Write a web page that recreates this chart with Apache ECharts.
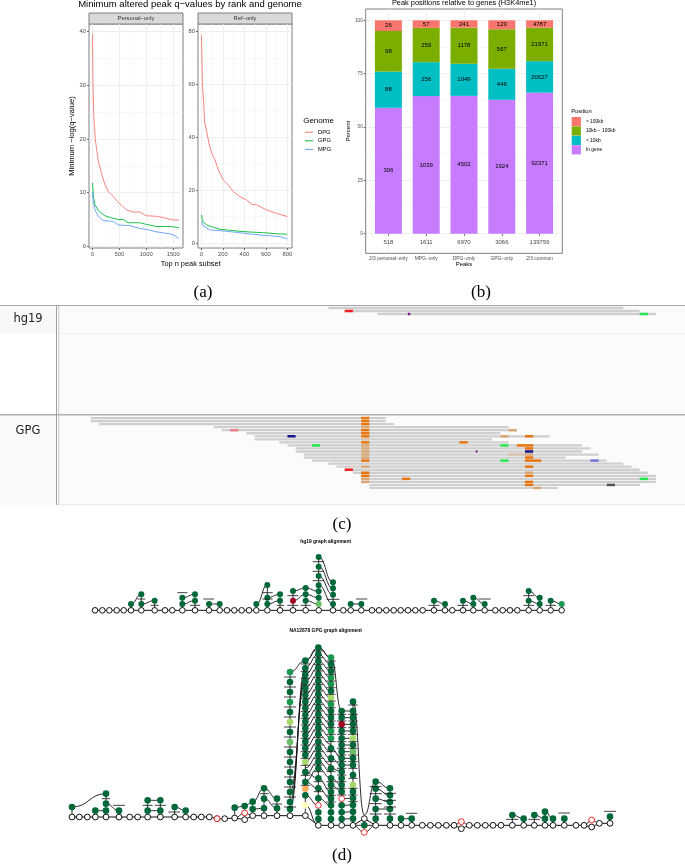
<!DOCTYPE html>
<html><head><meta charset="utf-8"><style>html,body{margin:0;padding:0;background:#fff}#c{width:685px;height:866px}</style>
<script src="https://cdn.jsdelivr.net/npm/echarts@6/dist/echarts.min.js"></script></head><body><div id="c"></div>
<script>
// ---------- (a) minimum altered peak q-values
const personalDPG=[[5,39.6],[12,30],[30,24],[55,20],[110,16],[170,13.6],[235,11.5],[296,10.2],[390,9.3],[480,8.2],[540,7.7],[635,6.8],[760,6.4],[880,6.4],[1000,5.7],[1190,5.6],[1345,5.3],[1470,4.95],[1605,4.9]];
const personalGPG=[[5,11.8],[20,9.3],[50,7.7],[110,6.7],[170,6.2],[235,5.7],[358,5.3],[480,5.0],[575,5.0],[665,4.4],[880,4.4],[1000,4.1],[1190,3.7],[1435,3.7],[1605,3.5]];
const personalMPG=[[5,10.2],[20,8.0],[50,6.8],[110,5.6],[205,4.8],[390,4.65],[480,4.0],[700,3.85],[880,3.35],[1030,3.1],[1190,2.7],[1435,2.35],[1530,2.0],[1605,1.45]];
const refDPG=[[2,78.6],[10,60],[20,54],[31,45.8],[50,42],[71,37.7],[96,33.9],[127,31.4],[158,27.6],[205,23.8],[251,21.9],[298,19.4],[360,17.5],[422,16.2],[468,14.7],[515,14.4],[608,12.5],[700,11.2],[800,10]];
const refGPG=[[2,10.6],[12,8.1],[50,6.8],[112,5.9],[174,5.2],[251,4.9],[360,4.4],[453,4.15],[577,3.9],[700,3.5],[800,3.3]];
const refMPG=[[2,8.1],[19,6.4],[81,4.9],[174,4.66],[298,4.15],[453,3.4],[608,2.8],[732,2.4],[800,1.5]];
const genomeNames=['DPG','GPG','MPG'];
const genomeColors=['#F8766D','#00BA38','#619CFF'];
// ---------- (b) peak positions relative to genes
const peakCategories=['2/3 personal\u2212only','MPG\u2212only','DPG\u2212only','GPG\u2212only','2/3 common'];
const countInGene=[306,1039,4502,1924,92371];
const countUnder10=[88,256,1049,446,20627];
const count10to100=[98,259,1178,567,21971];
const countOver100=[26,57,241,129,4787];
const peakTotals=[518,1611,6970,3066,139756];
const positionNames=['In gene','< 10kb','10kb \u2212 100kb','> 100kb'];
const positionColors=['#C77CFF','#00BFC4','#7CAE00','#F8766D'];
// ---------- (c) read pile-ups: [row,startBase,endBase]
const hg19Reads=[[0,29,65],[1,31,67],[2,35,69]];
const hg19Variants=[[1,31,32,'red'],[2,38.7,39,'purple'],[2,67,68,'green']];
const gpgReads=[[0,0,36],[1,0,36],[2,1,37],[3,15,51],[4,16,52],[5,19,50],[6,20,56],[7,20,49],[8,23,51],[9,24,60],[10,25,61],[11,25,60],[12,26,62],[13,26,58],[14,27,63],[15,29,65],[16,30,66],[17,31,67],[18,32,68],[19,33,69],[20,33,69],[21,33,69],[22,34,67],[23,34,57]];
const gpgVariants=[[0,33,34,'orange'],[1,33,34,'orange'],[2,33,34,'orange'],[3,33,34,'tan'],[4,33,34,'orange'],[5,33,34,'orange'],[6,33,34,'orange'],[7,33,34,'pale'],[8,33,34,'orange'],[9,33,34,'tan'],[10,33,34,'tan'],[11,33,34,'tan'],[12,33,34,'tan'],[13,33,34,'tan'],[14,33,34,'orange'],[16,33,34,'tan'],[18,33,34,'orange'],[19,33,34,'orange'],[20,33,34,'tan'],[21,33,34,'tan'],
[6,53,54,'orange'],[9,52,54,'orange'],[10,53,54,'orange'],[11,53,54,'navy'],[12,53,54,'tan'],[13,53,54,'orange'],[14,53,55,'orange'],[16,53,54,'orange'],[18,53,54,'tan'],[19,53,54,'orange'],[21,53,54,'orange'],[22,53,54,'orange'],
[4,17,18,'pink'],[4,51,52,'tan'],[6,24,25,'navy'],[6,50,51,'tan'],[8,45,46,'orange'],[9,27,28,'green'],[9,50,51,'green'],[11,47,47.2,'purple'],[12,51,53,'pale'],[14,50,51,'green'],[14,61,62,'blue'],[17,31,32,'red'],[20,38,39,'orange'],[20,67,68,'green'],[22,63,64,'dark'],[23,54,55,'tan']];
const variantColors={orange:'#e8760c',tan:'#d9a877',pale:'#d8c4ae',pink:'#ef7f88',navy:'#14148c',green:'#24e850',red:'#fa1e1e',purple:'#7a1a8a',blue:'#7272dc',dark:'#555555'};
// ---------- (d) graph alignments; node scores: 0 red .. 6 dark green
const hgChainX=[45,67,88,110,131,153,184,224,255,277,307,345,387,419,441,463,485,507,529,562,600,639,677,716,759,790,812,844,876,897,919,941,962,984,1006,1028,1062,1095,1117,1149,1180,1214,1246,1268,1290,1312,1346,1379,1412,1445];
const hgChainY=241;
const hgColumns=[[153,[222]],[184,[193,222]],[224,[212]],[307,[203,222]],[345,[193,212]],[387,[222]],[419,[222]],[529,[222]],[562,[165,203,222]],[600,[193,212]],[639,[183,[212,0]]],[677,[174,193,212]],[716,[81,110,138,166,184,203,[222,4]]],[759,[157,175,194,222]],[812,[222]],[844,[222]],[1062,[212]],[1095,[222]],[1149,[212]],[1180,[203,222]],[1214,[222]],[1346,[183,212]],[1379,[203,222]],[1412,[212]],[1445,[[222,5]]]];
const hgLinks=[[153,222,184,193],[184,222,224,212],[307,222,345,212],[307,203,345,193],[387,222,419,222],[529,222,562,165],[562,222,600,212],[562,203,600,193],[639,212,677,193],[639,183,677,174],[677,212,716,222],[677,193,716,203],[677,174,716,184],[716,166,759,222],[716,138,759,194],[716,110,759,175],[716,81,759,157],[812,222,844,222],[1062,212,1095,222],[1149,212,1180,222],[1180,203,1214,222],[1346,183,1379,203],[1346,212,1379,222],[1412,212,1445,222]];
const hgDashes=[[172,196,207],[212,236,226],[292,322,188],[330,360,226],[370,402,207],[547,578,188],[547,578,207],[590,612,226],[622,655,226],[622,655,197],[662,692,226],[698,732,95],[698,732,124],[698,732,152],[740,778,208],[828,862,207],[1045,1078,226],[1132,1164,226],[1196,1232,207],[1330,1362,197],[1330,1362,226],[1396,1428,226]];
const gpgChain=[[36,576],[58,576],[82,576],[106,576],[138,576],[177,576],[209,576],[233,576],[263,576],[301,576],[344,576],[377,576],[401,576],[424,576],[448,576],[471,581],[494,581],[524,579],[554,584],[578,572],[612,572],[651,572],[690,572],[736,572],[775,601],[813,601],[845,601],[879,601],[913,581],[947,601],[990,601],[1023,601],[1055,601],[1087,601],[1111,601],[1135,601],[1159,601],[1182,601],[1204,611],[1228,601],[1252,601],[1276,601],[1299,601],[1323,601],[1357,601],[1391,601],[1423,601],[1455,601],[1479,601],[1513,601],[1548,601],[1572,601],[1595,606],[1618,595],[1650,595]];
const gpgRedNodes=[[471,581],[554,564],[775,541],[845,521],[913,622],[1204,590],[1595,585]];
const gpgColumns=[[36,[546]],[106,[557]],[138,[506,536,557]],[177,[557]],[263,[526,557]],[301,[526,557]],[344,[546]],[377,[557]],[524,[548]],[554,[543]],[578,[530,552]],[612,[490,521,550]],[651,[521,550]],
[690,[[141,5],171,201,[231,5],261,[291,3],321,[351,4],381,411,441,471,501,531,552]],
[736,[107,130,150,170,190,210,230,250,270,290,310,330,350,370,390,[411,3],441,471,[491,1],511,[541,2]]],
[775,[68,88,108,128,148,168,188,208,228,248,268,288,308,328,350,370,390,410,430,460,490,520,562,582]],
[813,[[98,5],118,138,[158,5],[178,5],198,[218,3],[238,5],258,278,298,[318,5],[340,5],370,400,430,460,480,501,521,541,562,582]],
[845,[258,278,[298,0],318,340,360,380,400,420,440,460,480,500,541,562,582]],
[879,[230,258,278,298,318,[340,3],360,[380,4],400,420,450,[480,3],500,520,540,560,581]],
[913,[601]],[947,[470,491,521,552,581]],[990,[490,511,531,552,581]],[1023,[581]],[1055,[581]],[1357,[570]],[1391,[581]],[1423,[570]],[1455,[560,581]],[1479,[581]],[1513,[581]],[1650,[575]]];
const gpgLinks=[[36,546,138,506],[106,557,138,557],[138,536,177,557],[263,526,301,526],[263,557,301,557],[344,546,377,557],[524,548,554,543],[554,543,578,530],[578,530,612,490],[578,552,612,550],[612,490,651,521],[612,521,651,550],
[690,141,736,107],[690,552,736,130],[690,531,736,150],[690,501,736,170],[736,107,775,68],[775,68,813,98],[813,98,845,258],[879,230,913,570],[736,541,775,601],[736,511,775,541],[736,471,775,490],[736,441,775,460],[775,520,813,541],[775,490,813,521],[775,460,813,501],[913,570,947,470],[947,470,990,490],[947,491,990,511],[947,521,990,531],[947,552,990,552],[1023,581,1055,581],
[879,601,913,622],[913,622,947,601],[879,601,913,601],[913,601,947,601],[524,579,554,564],[554,564,578,572],[1182,601,1204,590],[1204,590,1228,601],[1572,601,1595,585],[1595,585,1618,595],[1357,570,1391,581],[1423,570,1455,581],[1455,560,1479,581],[845,521,879,520],[845,541,879,540],[845,562,879,560],[845,582,879,581],[813,370,845,400],[813,400,845,420],[813,430,845,440],[813,460,845,480],[813,480,845,500]];
const gpgZigzagRows=[68,88,108,128,148,168,188,208,228,248,268,288,308,328,350,370,390,410,430];
const gpgBridgeRows=[258,278,298,318,340,360,380,400,420];
const gpgDashes=[[160,195,541],[125,150,521],[248,278,541],[285,318,541],[325,360,561],[600,626,506],[636,666,537],[1038,1072,565],[1338,1375,583],[1405,1440,583],[1495,1530,564],[1632,1668,559]];

// ---------- rendering helpers
const nodeColors=['#a50026','#fdae61','#ffffbf','#a6d96a','#66bd63','#1a9850','#00683a'];
const flatten=cols=>cols.flatMap(([x,ys])=>ys.map(v=>Array.isArray(v)?[x,v[0],v[1]]:[x,v,6]));
const yOf=v=>Array.isArray(v)?v[0]:v;
function columnLinks(cols,chainAt){
  const out=[];
  cols.forEach(([x,ys])=>{
    const list=ys.map(yOf);
    for(let i=0;i+1<list.length;i++) out.push([x,list[i],x,list[i+1]]);
    const c=chainAt(x); if(c!==null) out.push([x,list[list.length-1],x,c]);
  });
  return out;
}
const hgNodes=flatten(hgColumns), gpgNodes=flatten(gpgColumns);
const hgAllLinks=hgLinks.concat(columnLinks(hgColumns,x=>hgChainX.includes(x)?hgChainY:null));
const gpgChainAt=x=>{const p=gpgChain.find(q=>q[0]===x);return p?p[1]:null;};
const zigzag=gpgZigzagRows.flatMap(y=>[[736,y+39,775,y],[775,y,813,y+30]]);
const bridges=gpgBridgeRows.map(y=>[845,y,879,y]);
const gpgAllLinks=gpgLinks.concat(columnLinks(gpgColumns,gpgChainAt),zigzag,bridges);
const denseDashes=gpgColumns.flatMap(([x,ys])=>{
  if(x===690) return ys.slice(0,-1).map(v=>[x-18,x+18,yOf(v)+15]);
  if(x>=736&&x<=879) return ys.slice(0,-3).map(v=>[x-14,x+14,yOf(v)+10]);
  if(x===947||x===990) return ys.slice(0,-1).map(v=>[x-18,x+18,yOf(v)+15]);
  return [];
});
const gpgAllDashes=gpgDashes.concat(denseDashes);

const linkItem=(p,api)=>{
  const a=api.coord([api.value(0),api.value(1)]),b=api.coord([api.value(2),api.value(3)]),m=(a[0]+b[0])/2;
  return {type:'bezierCurve',shape:{x1:a[0],y1:a[1],x2:b[0],y2:b[1],cpx1:m,cpy1:a[1],cpx2:m,cpy2:b[1]},style:{stroke:'#111',fill:'none',lineWidth:0.9}};
};
const dashItem=(p,api)=>{
  const a=api.coord([api.value(0),api.value(2)]),b=api.coord([api.value(1),api.value(2)]);
  return {type:'line',shape:{x1:a[0],y1:a[1],x2:b[0],y2:b[1]},style:{stroke:'#111',lineWidth:0.8}};
};
const rectItem=(h,getFill)=>(p,api)=>{
  const a=api.coord([api.value(1),api.value(0)]),b=api.coord([api.value(2),api.value(0)]);
  return {type:'rect',shape:{x:a[0],y:a[1]-h/2,width:b[0]-a[0],height:h},style:{fill:getFill(api,p)}};
};
const sans='"Liberation Sans",Arial,sans-serif';
const serif='"Liberation Serif",serif';
const G='#ebebeb', B='#7f7f7f', TL='#4d4d4d';

const grids=[
 {left:89,top:24,width:94,height:224,show:true,borderColor:B,borderWidth:1,backgroundColor:'#fff'},
 {left:198,top:24,width:94,height:224,show:true,borderColor:B,borderWidth:1,backgroundColor:'#fff'},
 {left:365.7,top:9,width:196.6,height:244.3,show:true,borderColor:B,borderWidth:1,backgroundColor:'#fff'},
 {left:59,top:305,width:626,height:109},
 {left:59,top:415,width:626,height:90},
 {left:80,top:530,width:500,height:95},
 {left:60,top:625,width:580,height:225},
 {left:369.5,top:9,width:189,height:244.3}
];
const xAxes=[],yAxes=[];
function major(g,min,max,vals,extra,fs){return Object.assign({type:'value',gridIndex:g,min,max,
  axisLine:{show:false,onZero:false},axisTick:{show:true,length:2,customValues:vals,lineStyle:{color:'#333',width:0.7}},
  axisLabel:{show:true,customValues:vals,fontSize:fs||5.8,color:TL,fontFamily:sans,margin:3,hideOverlap:false,showMinLabel:true,showMaxLabel:true,formatter:v=>String(v)},
  splitLine:{show:true,lineStyle:{color:G,width:0.8}}},extra||{});}
function minor(g,min,max,vals){return {type:'value',gridIndex:g,min,max,axisLine:{show:false,onZero:false},
  axisTick:{show:false,customValues:vals},axisLabel:{show:false},splitLine:{show:true,lineStyle:{color:'#f1f1f1',width:0.5}}};}
function hidden(g,min,max,inv){return {type:'value',gridIndex:g,min,max,inverse:!!inv,show:false};}
// panel a  (0,1)
xAxes.push(major(0,-61,1680,[0,500,1000,1500]));
yAxes.push(major(0,-0.3,41.4,[0,10,20,30,40],{name:'Minimum \u2212log(q\u2212value)',nameLocation:'middle',nameGap:13,nameTextStyle:{fontSize:7.6,color:'#000',fontFamily:sans}}));
xAxes.push(major(1,-31,844,[0,200,400,600,800]));
yAxes.push(major(1,-1.9,82.8,[0,20,40,60,80]));
// panel b frame (2): grid lines, y ticks and axis titles
const peakGridX=major(2,0.4,5.6,[1,2,3,4,5],{name:'Peaks',nameLocation:'middle',nameGap:8.5,nameTextStyle:{fontSize:6,color:'#000',fontFamily:sans,fontWeight:'normal'}},4.9);
peakGridX.axisLabel.show=false; peakGridX.axisTick.show=false;
xAxes.push(peakGridX);
yAxes.push(major(2,-9.18,105.3,[0,25,50,75,100],{name:'Percent',nameLocation:'middle',nameGap:12.5,nameTextStyle:{fontSize:6,color:'#000',fontFamily:sans,fontWeight:'normal'}},4.6));
// browser panels (3,4)
xAxes.push(hidden(3,-3.89,72.54)); yAxes.push(hidden(3,-1,35.3,true));
xAxes.push(hidden(4,-3.89,72.54)); yAxes.push(hidden(4,-1,28.6,true));
// graph panels (5,6)
xAxes.push(hidden(5,0,1500)); yAxes.push(hidden(5,0,285,true));
xAxes.push(hidden(6,0,1740)); yAxes.push(hidden(6,0,675,true));
// bar plot axes (7)
xAxes.push({type:'category',gridIndex:7,data:peakCategories,boundaryGap:true,axisLine:{show:false},
  axisTick:{show:true,alignWithLabel:true,length:2,lineStyle:{color:'#333',width:0.7}},
  axisLabel:{show:true,interval:0,fontSize:4.9,color:TL,fontFamily:sans,margin:3},splitLine:{show:false}});
yAxes.push({type:'value',gridIndex:7,min:-9.18,max:105.3,show:false});
// minor grid (8,9,10)
xAxes.push(minor(0,-61,1680,[250,750,1250])); yAxes.push(minor(0,-0.3,41.4,[5,15,25,35]));
xAxes.push(minor(1,-31,844,[100,300,500,700])); yAxes.push(minor(1,-1.9,82.8,[10,30,50,70]));
xAxes.push(minor(2,0.4,5.6,[1.5,2.5,3.5,4.5])); xAxes[10].splitLine.show=false;
yAxes.push(minor(2,-9.18,105.3,[12.5,37.5,62.5,87.5]));

const series=[];
const lineSeries=(name,i,data,ax)=>series.push({name,type:'line',xAxisIndex:ax,yAxisIndex:ax,data,symbol:'none',smooth:false,lineStyle:{color:genomeColors[i],width:0.9},itemStyle:{color:genomeColors[i]},z:3,silent:true});
[personalDPG,personalGPG,personalMPG].forEach((d,i)=>lineSeries(genomeNames[i],i,d,0));
[refDPG,refGPG,refMPG].forEach((d,i)=>lineSeries(genomeNames[i],i,d,1));
[8,9,10].forEach(ax=>series.push({type:'line',xAxisIndex:ax,yAxisIndex:ax,data:[],silent:true}));
// stacked bars from counts
[countInGene,countUnder10,count10to100,countOver100].forEach((arr,i)=>series.push({
  name:positionNames[i],type:'bar',stack:'pos',xAxisIndex:7,yAxisIndex:7,barWidth:27,z:3,silent:true,
  data:arr.map((c,k)=>({value:c/peakTotals[k]*100,count:c})),
  itemStyle:{color:positionColors[i]},
  label:{show:true,position:'inside',formatter:p=>String(p.data.count),fontSize:6,color:'#000',fontFamily:sans}
}));
series.push({type:'scatter',xAxisIndex:7,yAxisIndex:7,symbolSize:1,itemStyle:{color:'rgba(0,0,0,0)'},silent:true,z:4,
  data:peakTotals.map(t=>({value:-4,count:t})),
  label:{show:true,position:'inside',formatter:p=>String(p.data.count),fontSize:6,color:'#111',fontFamily:sans}});
// reads
const vFill=api=>variantColors[api.value(3)];
const readSeries=(ax,reads,vars)=>{
  series.push({type:'custom',xAxisIndex:ax,yAxisIndex:ax,data:reads,encode:{x:[1,2],y:0},silent:true,z:3,renderItem:rectItem(2.3,()=>'#cfcfcf')});
  series.push({type:'custom',xAxisIndex:ax,yAxisIndex:ax,dimensions:['row','a','b',{name:'v',type:'ordinal'}],data:vars,encode:{x:[1,2],y:0},silent:true,z:4,renderItem:rectItem(2.5,vFill)});
};
readSeries(3,hg19Reads,hg19Variants);
readSeries(4,gpgReads,gpgVariants);
// graphs
const chainSeries=(ax,data)=>series.push({type:'line',xAxisIndex:ax,yAxisIndex:ax,data,symbol:'none',lineStyle:{color:'#111',width:1},z:3,silent:true});
const linkSeries=(ax,data)=>series.push({type:'custom',xAxisIndex:ax,yAxisIndex:ax,data,encode:{x:[0,2],y:[1,3]},renderItem:linkItem,z:3,silent:true});
const dashSeries=(ax,data)=>series.push({type:'custom',xAxisIndex:ax,yAxisIndex:ax,data,encode:{x:[0,1],y:2},renderItem:dashItem,z:6,silent:true});
const nodeSeries=(ax,data,size)=>series.push({type:'scatter',xAxisIndex:ax,yAxisIndex:ax,data,symbolSize:size,z:5,silent:true,itemStyle:{color:p=>nodeColors[p.data[2]],opacity:1}});
const openSeries=(ax,data,size,col)=>series.push({type:'scatter',xAxisIndex:ax,yAxisIndex:ax,data,symbolSize:size,z:5,silent:true,itemStyle:{color:'#fff',borderColor:col,borderWidth:1,opacity:1}});
chainSeries(5,hgChainX.map(x=>[x,hgChainY]));
linkSeries(5,hgAllLinks);
openSeries(5,hgChainX.map(x=>[x,hgChainY]),5.6,'#111');
nodeSeries(5,hgNodes,6);
dashSeries(5,hgDashes);
chainSeries(6,gpgChain);
linkSeries(6,gpgAllLinks);
openSeries(6,gpgChain,5.8,'#111');
openSeries(6,gpgRedNodes,5.8,'#ee2a2a');
nodeSeries(6,gpgNodes,6.6);
dashSeries(6,gpgAllDashes);

const T=(text,x,y,size,o)=>Object.assign({type:'text',x,y,silent:true,style:Object.assign({text,font:`${size}px ${sans}`,fill:'#000',textAlign:'center',textVerticalAlign:'middle'},o||{})});
const R=(x,y,w,h,fill,stroke,lw)=>({type:'rect',silent:true,shape:{x,y,width:w,height:h},style:{fill,stroke:stroke||'none',lineWidth:lw||0}});
const graphic=[
 R(59,305,626,109,'#fbfbfb'),R(59,415,626,90,'#fbfbfb'),
 R(0,305,56,28,'#f8f8f8'),R(0,415,56,90,'#f9f9f9'),
 R(0,305,685,1,'#a8a8a8'),R(59,333.3,626,0.8,'#e9e9e9'),
 R(0,414,685,1.4,'#b0b0b0'),R(59,504.4,626,0.8,'#e4e4e4'),
 R(56,305,1,200,'#a0a0a0'),R(58.4,305,0.8,200,'#b8b8b8'),
 T('hg19',28,319,11.5,{font:'11.5px "DejaVu Sans"',fill:'#222'}),
 T('GPG',28,430.7,11.5,{font:'11.5px "DejaVu Sans"',fill:'#222'}),
 R(89,13,94,11,'#d9d9d9',B,1),R(198,13,94,11,'#d9d9d9',B,1),
 T('Personal\u2212only',136,18.7,5.8,{fill:'#333'}),T('Ref\u2212only',245,18.7,5.8,{fill:'#333'}),
 T('Minimum altered peak q\u2212values by rank and genome',190,4.7,9.5),
 T('Top n peak subset',190.7,263.7,7.4),
 T('Genome',318.5,121,8),
 T('Peak positions relative to genes (H3K4me1)',464,3,7.4),
 T('Position',581.5,111,5.8),
 T('hg19 graph alignment',325.7,541.7,4.9,{font:`bold 4.9px ${sans}`}),
 T('NA12878 GPG graph alignment',325.7,631,4.9,{font:`bold 4.9px ${sans}`}),
 T('(a)',203,292.5,17,{font:`17px ${serif}`}),T('(b)',481,292.5,17,{font:`17px ${serif}`}),
 T('(c)',342,525,17,{font:`17px ${serif}`}),T('(d)',342,856,17,{font:`17px ${serif}`})
];
const chart=echarts.init(document.getElementById('c'));
chart.setOption({animation:false,backgroundColor:'#fff',grid:grids,xAxis:xAxes,yAxis:yAxes,series,graphic:{elements:graphic},
 legend:[
  {data:genomeNames,orient:'vertical',left:305,top:129.2,icon:'rect',itemWidth:8,itemHeight:1,itemGap:2.6,padding:0,selectedMode:false,textStyle:{fontSize:5.8,color:'#000',fontFamily:sans}},
  {data:positionNames.slice().reverse(),orient:'vertical',left:571.7,top:117,itemWidth:9.2,itemHeight:9.2,itemGap:0.2,padding:0,selectedMode:false,icon:'rect',textStyle:{fontSize:4.9,color:'#000',fontFamily:sans}}
 ]});
</script></body></html>
